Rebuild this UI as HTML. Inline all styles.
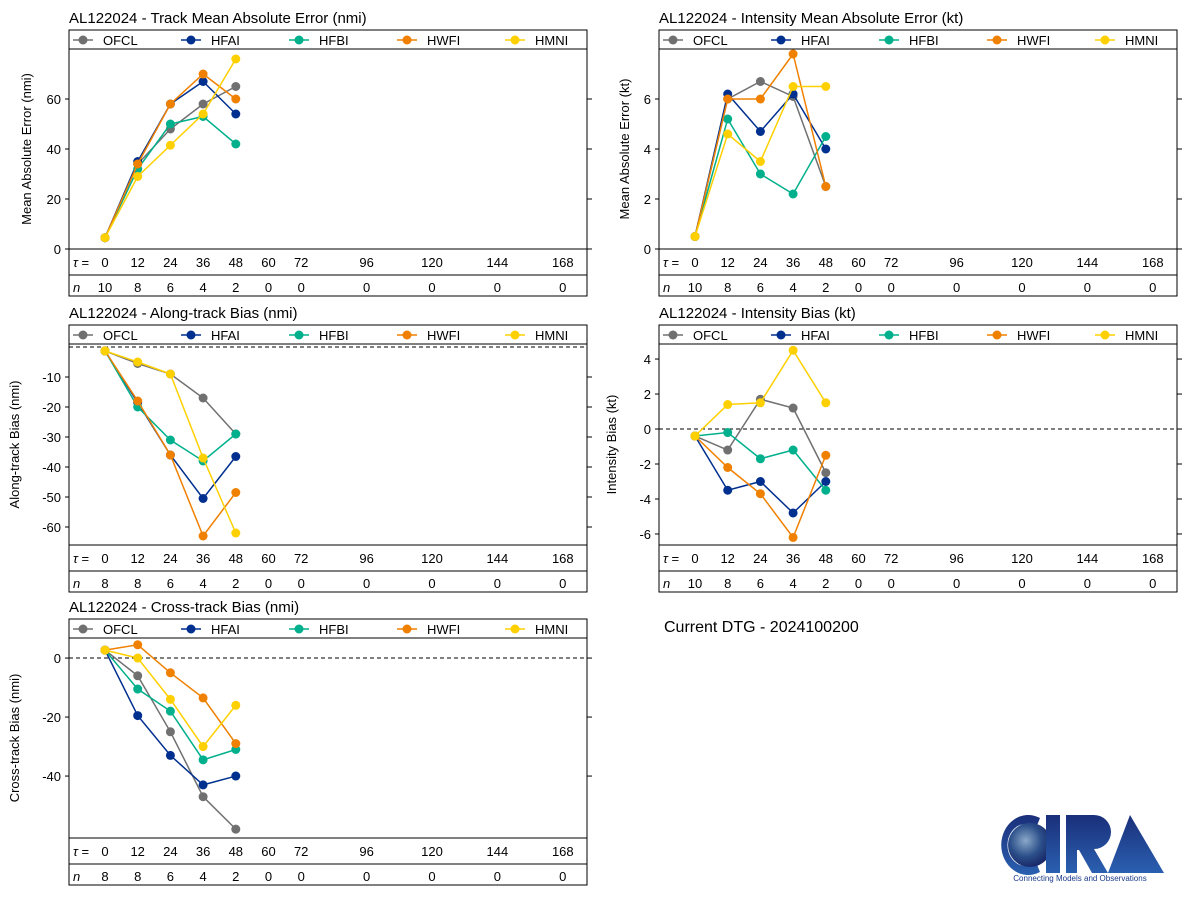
<!DOCTYPE html>
<html><head><meta charset="utf-8">
<style>
body{margin:0;background:#fff;font-family:"Liberation Sans","DejaVu Sans",sans-serif;}
svg text{font-family:"Liberation Sans","DejaVu Sans",sans-serif;}
</style></head>
<body>
<svg id="fig" width="1191" height="900" xmlns="http://www.w3.org/2000/svg">
<text x="664" y="632" font-size="16">Current DTG - 2024100200</text>
<g>
  <defs>
    <radialGradient id="globe" cx="0.4" cy="0.4" r="0.6"><stop offset="0" stop-color="#8aa8c8"/><stop offset="0.6" stop-color="#2b4f8a"/><stop offset="1" stop-color="#1a2a6a"/></radialGradient>
    <linearGradient id="blu" x1="0" y1="0" x2="0" y2="1"><stop offset="0" stop-color="#1a2f7a"/><stop offset="1" stop-color="#2a60b0"/></linearGradient>
  </defs>
  <path d="M1040,818 A27,30 0 1,0 1040,872 L1036,862 A18,21 0 1,1 1036,828 Z" fill="url(#blu)"/>
  <circle cx="1030" cy="845" r="22" fill="url(#globe)"/>
  <rect x="1046" y="815" width="14" height="58" fill="url(#blu)"/>
  <path d="M1066,815 h28 a16,16 0 0,1 0,34 l14,24 h-16 l-13,-23 h-2 v23 h-11 Z" fill="url(#blu)"/>
  <path d="M1130,815 l34,58 h-56 Z" fill="url(#blu)"/>
  <text x="1080" y="881" font-size="8" fill="#1a3a8a" text-anchor="middle">Connecting Models and Observations</text>
</g>
</svg>
<script>
const taus=[0,12,24,36,48,60,72,96,120,144,168];
const fx=[0,12,24,36,48];
const models=["OFCL","HFAI","HFBI","HWFI","HMNI"];
const colors=["#707070","#00308f","#00b08c","#f08000","#ffd000"];
const trackOFCL=[4.5,34,48,58,65],trackHFAI=[4.5,35,58,67,54],trackHFBI=[4.5,32,50,53,42],trackHWFI=[4.5,34,58,70,60],trackHMNI=[4.5,29,41.5,54,76];
const intOFCL=[0.5,6.0,6.7,6.1,2.5],intHFAI=[0.5,6.2,4.7,6.2,4.0],intHFBI=[0.5,5.2,3.0,2.2,4.5],intHWFI=[0.5,6.0,6.0,7.8,2.5],intHMNI=[0.5,4.6,3.5,6.5,6.5];
const alOFCL=[-1.3,-5.5,-9,-17,-29],alHFAI=[-1.3,-18.5,-36,-50.5,-36.5],alHFBI=[-1.3,-20,-31,-38,-29],alHWFI=[-1.3,-18,-36,-63,-48.5],alHMNI=[-1.3,-5,-9,-37,-62];
const ibOFCL=[-0.4,-1.2,1.7,1.2,-2.5],ibHFAI=[-0.4,-3.5,-3.0,-4.8,-3.0],ibHFBI=[-0.4,-0.2,-1.7,-1.2,-3.5],ibHWFI=[-0.4,-2.2,-3.7,-6.2,-1.5],ibHMNI=[-0.4,1.4,1.5,4.5,1.5];
const ctOFCL=[2.7,-6,-25,-47,-58],ctHFAI=[2.7,-19.5,-33,-43,-40],ctHFBI=[2.7,-10.5,-18,-34.5,-31],ctHWFI=[2.7,4.5,-5,-13.5,-29],ctHMNI=[2.7,0,-14,-30,-16];
const nTrack=[10,8,6,4,2,0,0,0,0,0,0],nAlong=[8,8,6,4,2,0,0,0,0,0,0],nInt=[10,8,6,4,2,0,0,0,0,0,0],nCross=[8,8,6,4,2,0,0,0,0,0,0];
const yt1=[0,20,40,60],yt2=[0,2,4,6],yt3=[-10,-20,-30,-40,-50,-60],yt4=[4,2,0,-2,-4,-6],yt5=[0,-20,-40];

const NS="http://www.w3.org/2000/svg";
const svg=document.getElementById('fig');
function mk(t,a,p){const e=document.createElementNS(NS,t);for(const k in a)e.setAttribute(k,a[k]);(p||svg).appendChild(e);return e;}

function panel(o){
  const g=mk('g',{});
  
  
  const L=o.x,R=o.x+518,T=o.top,B=o.bot;
  const X=t=>L+36+t*2.725;
  const Y=v=>T+(o.ymax-v)/(o.ymax-o.ymin)*(B-T);
  const tt=mk('text',{x:L,y:T-26,'font-size':15},g);tt.textContent=o.title;
  
  
  mk('rect',{x:L,y:T-19,width:518,height:B-T+19+47,fill:'none',stroke:'#000','stroke-width':1},g);
  mk('line',{x1:L,x2:R,y1:T,y2:T,stroke:'#000'},g);
  mk('line',{x1:L,x2:R,y1:B,y2:B,stroke:'#000'},g);
  mk('line',{x1:L,x2:R,y1:B+26,y2:B+26,stroke:'#000'},g);
  models.forEach((m,i)=>{
    const lx=L+4+i*108, ly=T-9;
    const le=mk('g',{},g);
    
    
    mk('line',{x1:lx,x2:lx+20,y1:ly,y2:ly,stroke:colors[i],'stroke-width':1.5},le);
    mk('circle',{cx:lx+10,cy:ly,r:4.5,fill:colors[i]},le);
    const t=mk('text',{x:lx+30,y:ly+5,'font-size':13},le);t.textContent=m;
  });
  o.yt.forEach(v=>{
    const y=Y(v);
    mk('line',{x1:L-4,x2:L,y1:y,y2:y,stroke:'#000'},g);
    mk('line',{x1:R,x2:R+5,y1:y,y2:y,stroke:'#000'},g);
    const t=mk('text',{x:L-8,y:y+5,'font-size':13,'text-anchor':'end'},g);t.textContent=v;
  });
  const yl=mk('text',{x:0,y:0,'font-size':13,'text-anchor':'middle',transform:`translate(${L-o.ylo},${(T+B)/2}) rotate(-90)`},g);yl.textContent=o.ylabel;
  
  
  if(o.zero){mk('line',{x1:L,x2:R,y1:Y(0),y2:Y(0),stroke:'#000','stroke-dasharray':'4,3'},g);}
  const t0=mk('text',{x:L+4,y:B+18,'font-size':13},g);t0.innerHTML='<tspan font-style="italic">τ</tspan> =';
  const n0=mk('text',{x:L+4,y:B+43,'font-size':13,'font-style':'italic'},g);n0.textContent='n';
  taus.forEach((t,i)=>{
    const a=mk('text',{x:X(t),y:B+18,'font-size':13,'text-anchor':'middle'},g);a.textContent=t;
    const b=mk('text',{x:X(t),y:B+43,'font-size':13,'text-anchor':'middle'},g);b.textContent=o.n[i];
  });
  o.series.forEach((s,i)=>{
    const sg=mk('g',{},g);
    
    
    mk('polyline',{points:s.map((v,j)=>X(fx[j])+','+Y(v)).join(' '),fill:'none',stroke:colors[i],'stroke-width':1.5},sg);
    s.forEach((v,j)=>{const c=mk('circle',{cx:X(fx[j]),cy:Y(v),r:4.5,fill:colors[i]},sg);
      
      });
  });
}
panel({name:'track-mae-panel',x:69,top:49,bot:249,ymin:0,ymax:80,yt:yt1,ylo:38,title:'AL122024 - Track Mean Absolute Error (nmi)',ylabel:'Mean Absolute Error (nmi)',n:nTrack,series:[trackOFCL,trackHFAI,trackHFBI,trackHWFI,trackHMNI]});
panel({name:'intensity-mae-panel',x:659,top:49,bot:249,ymin:0,ymax:8,yt:yt2,ylo:30,title:'AL122024 - Intensity Mean Absolute Error (kt)',ylabel:'Mean Absolute Error (kt)',n:nInt,series:[intOFCL,intHFAI,intHFBI,intHWFI,intHMNI]});
panel({name:'along-track-bias-panel',x:69,top:344,bot:545,ymin:-66,ymax:1,yt:yt3,ylo:50,zero:true,title:'AL122024 - Along-track Bias (nmi)',ylabel:'Along-track Bias (nmi)',n:nAlong,series:[alOFCL,alHFAI,alHFBI,alHWFI,alHMNI]});
panel({name:'intensity-bias-panel',x:659,top:344,bot:545,ymin:-6.63,ymax:4.86,yt:yt4,ylo:43,zero:true,title:'AL122024 - Intensity Bias (kt)',ylabel:'Intensity Bias (kt)',n:nInt,series:[ibOFCL,ibHFAI,ibHFBI,ibHWFI,ibHMNI]});
panel({name:'cross-track-bias-panel',x:69,top:638,bot:838,ymin:-61,ymax:6.8,yt:yt5,ylo:50,zero:true,title:'AL122024 - Cross-track Bias (nmi)',ylabel:'Cross-track Bias (nmi)',n:nCross,series:[ctOFCL,ctHFAI,ctHFBI,ctHWFI,ctHMNI]});
</script>
</body></html>
